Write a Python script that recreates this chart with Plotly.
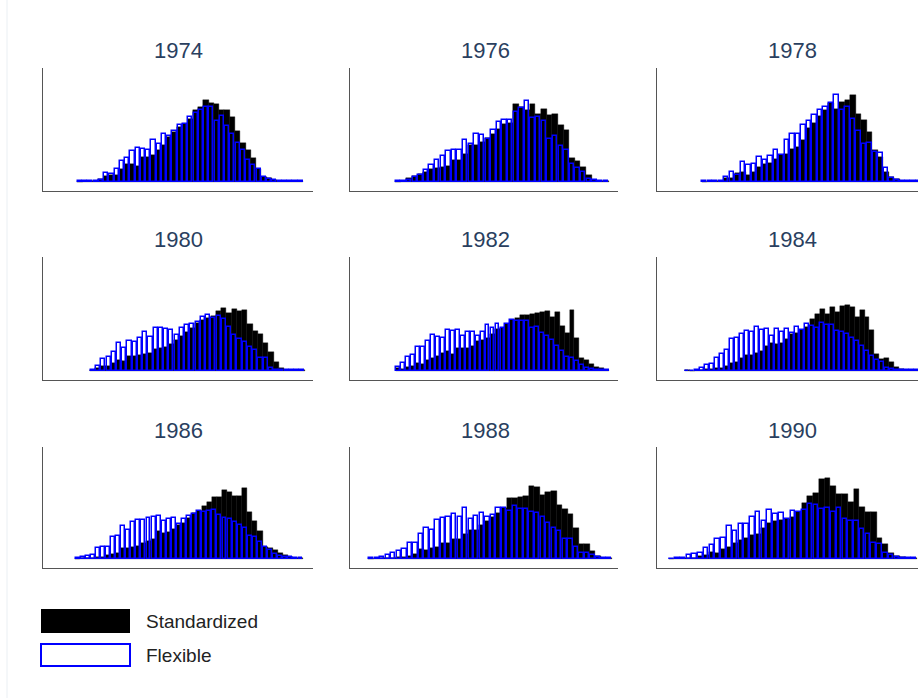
import numpy as np
import plotly.graph_objects as go

W, H = 918, 698

years = [1974, 1976, 1978, 1980, 1982, 1984, 1986, 1988, 1990]

# Histogram bins on the common wage axis (0-100 scale): first edge and bin width per year
bin_start = [12.7, 16.7, 16.5, 17.5, 16.9, 10.25, 11.85, 6.8, 4.3]
bin_width = [1.947, 2.08, 2.04, 1.94, 1.84, 1.85, 1.877, 2.05, 2.14]

# Bin densities (x1000) for standardized and flexible wage settings
std_1974 = [0, 2, 2, 3, 8, 17, 20, 22, 38, 55, 55, 47, 75, 75, 82, 95, 110, 135, 150, 165,
            175, 190, 215, 225, 245, 237, 235, 217, 217, 195, 153, 117, 97, 73, 40, 15, 12, 6, 4, 3,
            2, 2, 3]
flex_1974 = [3, 2, 3, 4, 6, 28, 24, 38, 63, 72, 92, 103, 100, 97, 127, 113, 145, 139, 152, 170,
             173, 195, 208, 215, 225, 225, 182, 197, 167, 143, 117, 95, 65, 50, 40, 15, 8, 5, 3, 2,
             2, 3, 2]

std_1976 = [1, 3, 12, 17, 25, 30, 38, 42, 45, 47, 65, 65, 85, 112, 110, 120, 132, 145, 160, 175,
            177, 235, 225, 215, 233, 205, 220, 200, 205, 172, 157, 73, 63, 45, 22, 7, 3, 2]
flex_1976 = [2, 3, 7, 15, 22, 37, 50, 65, 78, 93, 97, 97, 127, 115, 145, 140, 128, 155, 180, 187,
             185, 210, 223, 242, 193, 195, 183, 130, 137, 107, 97, 55, 42, 30, 10, 5, 3, 2]

std_1978 = [1, 2, 3, 3, 12, 12, 28, 30, 20, 30, 45, 55, 57, 70, 80, 85, 100, 105, 127, 162,
            178, 198, 215, 237, 220, 240, 245, 260, 205, 185, 150, 95, 75, 30, 15, 8, 4, 2, 2, 2]
flex_1978 = [2, 2, 3, 3, 15, 30, 20, 60, 50, 53, 75, 65, 78, 97, 80, 125, 145, 145, 170, 182,
             202, 217, 225, 237, 262, 217, 225, 190, 152, 115, 118, 90, 88, 43, 13, 5, 3, 2, 2, 2]

std_1980 = [2, 8, 15, 15, 25, 32, 30, 45, 45, 48, 52, 55, 65, 68, 72, 80, 92, 105, 118, 130,
            143, 152, 160, 165, 180, 190, 175, 185, 180, 182, 142, 120, 110, 85, 57, 27, 10, 4, 3, 3,
            3]
flex_1980 = [3, 15, 35, 42, 58, 85, 70, 90, 88, 98, 118, 102, 130, 128, 125, 124, 108, 130, 138, 140,
             147, 162, 167, 160, 165, 155, 132, 107, 97, 88, 73, 62, 40, 40, 10, 4, 3, 2, 2, 2,
             2]

std_1982 = [8, 5, 12, 15, 23, 22, 32, 40, 45, 55, 60, 52, 70, 68, 68, 75, 90, 92, 100, 110,
            125, 130, 140, 152, 160, 168, 168, 172, 175, 178, 180, 162, 177, 135, 115, 183, 98, 38, 32, 20,
            12, 8, 3]
flex_1982 = [12, 25, 42, 47, 72, 72, 90, 107, 102, 98, 122, 120, 122, 104, 118, 117, 104, 118, 138, 130,
             140, 128, 140, 152, 150, 150, 150, 128, 132, 115, 105, 92, 75, 60, 42, 38, 30, 17, 10, 5,
             3, 2, 2]

std_1984 = [3, 0, 3, 2, 5, 7, 9, 9, 15, 24, 27, 39, 47, 47, 55, 60, 74, 85, 82, 85,
            95, 112, 114, 122, 132, 157, 171, 185, 172, 192, 177, 195, 199, 192, 162, 182, 162, 122, 50, 37,
            39, 27, 12, 5, 3, 3, 3]
flex_1984 = [0, 0, 2, 9, 17, 22, 39, 52, 64, 97, 99, 112, 119, 117, 132, 122, 125, 104, 127, 117,
             127, 114, 132, 124, 142, 134, 129, 144, 137, 139, 120, 117, 112, 99, 89, 74, 60, 44, 34, 27,
             10, 7, 4, 3, 3, 3, 3]

std_1986 = [1, 2, 2, 3, 7, 8, 12, 17, 20, 35, 33, 38, 40, 50, 55, 62, 85, 80, 82, 92,
            105, 110, 125, 140, 148, 163, 175, 190, 190, 210, 205, 193, 193, 217, 145, 117, 85, 37, 35, 27,
            20, 12, 7, 5, 2]
flex_1986 = [2, 7, 10, 12, 33, 37, 38, 67, 72, 100, 90, 113, 118, 120, 125, 128, 133, 115, 123, 127,
             107, 123, 132, 138, 147, 143, 147, 150, 135, 127, 123, 113, 105, 95, 70, 68, 52, 38, 27, 15,
             10, 8, 7, 5, 2]

std_1988 = [1, 2, 3, 4, 3, 6, 7, 10, 15, 30, 28, 33, 38, 48, 50, 62, 60, 78, 90, 90,
            103, 117, 130, 142, 157, 185, 188, 190, 193, 222, 220, 195, 205, 207, 165, 152, 138, 95, 47, 45,
            25, 10, 5, 2]
flex_1988 = [2, 4, 6, 12, 18, 25, 32, 48, 48, 78, 95, 90, 120, 125, 130, 137, 130, 155, 122, 133,
             140, 130, 135, 157, 155, 148, 162, 153, 153, 143, 142, 128, 110, 95, 87, 60, 60, 37, 18, 18,
             12, 6, 3, 2]

std_1990 = [1, 2, 3, 5, 5, 10, 12, 22, 18, 30, 38, 48, 58, 65, 75, 78, 95, 110, 115, 120,
            122, 130, 145, 170, 193, 202, 243, 247, 223, 198, 200, 175, 213, 160, 145, 143, 63, 45, 20, 10,
            7, 3, 2]
flex_1990 = [1, 2, 5, 12, 17, 18, 33, 42, 62, 65, 100, 85, 107, 108, 128, 143, 117, 150, 137, 140,
             122, 147, 145, 150, 168, 165, 153, 155, 145, 155, 123, 117, 117, 92, 78, 48, 45, 18, 13, 8,
             5, 2, 2]

standardized = [std_1974, std_1976, std_1978, std_1980, std_1982, std_1984, std_1986, std_1988, std_1990]
flexible = [flex_1974, flex_1976, flex_1978, flex_1980, flex_1982, flex_1984, flex_1986, flex_1988, flex_1990]

# Panel geometry in pixels (left, right) per column and (top, bottom) per row
col_px = [(43, 313), (350, 618), (657, 918)]
row_px = [(68, 191), (257, 380), (447, 568)]
PX_PER_UNIT = 2.7  # horizontal pixels per wage-axis unit
Y_RANGE = [-27, 342]

FONT = "Arial, Liberation Sans, Helvetica, sans-serif"

fig = go.Figure()
annotations = []

for k, year in enumerate(years):
    r, c = divmod(k, 3)
    n = k + 1
    xa = "x" if n == 1 else f"x{n}"
    ya = "y" if n == 1 else f"y{n}"

    w = bin_width[k]
    s = standardized[k]
    f = flexible[k]
    xs = bin_start[k] + w * (np.arange(len(s)) + 0.5)
    xf = bin_start[k] + w * (np.arange(len(f)) + 0.5)

    fig.add_trace(go.Bar(
        x=xs, y=s, width=w, xaxis=xa, yaxis=ya,
        marker=dict(color="black", line=dict(color="black", width=0.4)),
        showlegend=False, hoverinfo="skip",
    ))
    fig.add_trace(go.Bar(
        x=xf, y=f, width=w * 0.78, xaxis=xa, yaxis=ya,
        marker=dict(color="rgba(0,0,0,0)", line=dict(color="#0000ff", width=1.5)),
        showlegend=False, hoverinfo="skip",
    ))

    x0, x1 = col_px[c]
    y0, y1 = row_px[r]
    axis_common = dict(showline=True, linecolor="#555555", linewidth=1,
                       showticklabels=False, ticks="", showgrid=False, zeroline=False)
    fig.layout[("xaxis" if n == 1 else f"xaxis{n}")] = dict(
        domain=[x0 / W, x1 / W], range=[0, (x1 - x0) / PX_PER_UNIT],
        anchor=ya, **axis_common)
    fig.layout[("yaxis" if n == 1 else f"yaxis{n}")] = dict(
        domain=[1 - y1 / H, 1 - y0 / H], range=Y_RANGE,
        anchor=xa, **axis_common)

    # panel title centred over the full panel width
    cx = (x0 + x0 + 270) / 2
    annotations.append(dict(
        text=str(year), x=cx / W, y=1 - (y0 - 17) / H, xref="paper", yref="paper",
        xanchor="center", yanchor="middle", showarrow=False,
        font=dict(family=FONT, size=22, color="#2a3f5f"),
    ))

# Legend drawn as swatches with labels
legend_items = [("Standardized", "black", "black", 0), ("Flexible", "white", "#0000ff", 2)]
legend_rows = [(609, 633), (644, 666)]
shapes = []
for (label, fill, line, lw), (t, b) in zip(legend_items, legend_rows):
    shapes.append(dict(type="rect", xref="paper", yref="paper",
                       x0=41 / W, x1=130 / W, y0=1 - b / H, y1=1 - t / H,
                       fillcolor=fill, line=dict(color=line, width=lw)))
    annotations.append(dict(
        text=label, x=144 / W, y=1 - ((t + b) / 2) / H, xref="paper", yref="paper",
        xanchor="left", yanchor="middle", showarrow=False,
        font=dict(family=FONT, size=19, color="#222222"),
    ))

# faint page border on the left
shapes.append(dict(type="line", xref="paper", yref="paper",
                   x0=7 / W, x1=7 / W, y0=0, y1=1,
                   line=dict(color="#eaeff3", width=1)))

fig.update_layout(
    width=W, height=H,
    margin=dict(l=0, r=0, t=0, b=0),
    paper_bgcolor="white", plot_bgcolor="white",
    barmode="overlay", bargap=0,
    annotations=annotations, shapes=shapes,
    showlegend=False,
)

fig.write_html("out.html")
